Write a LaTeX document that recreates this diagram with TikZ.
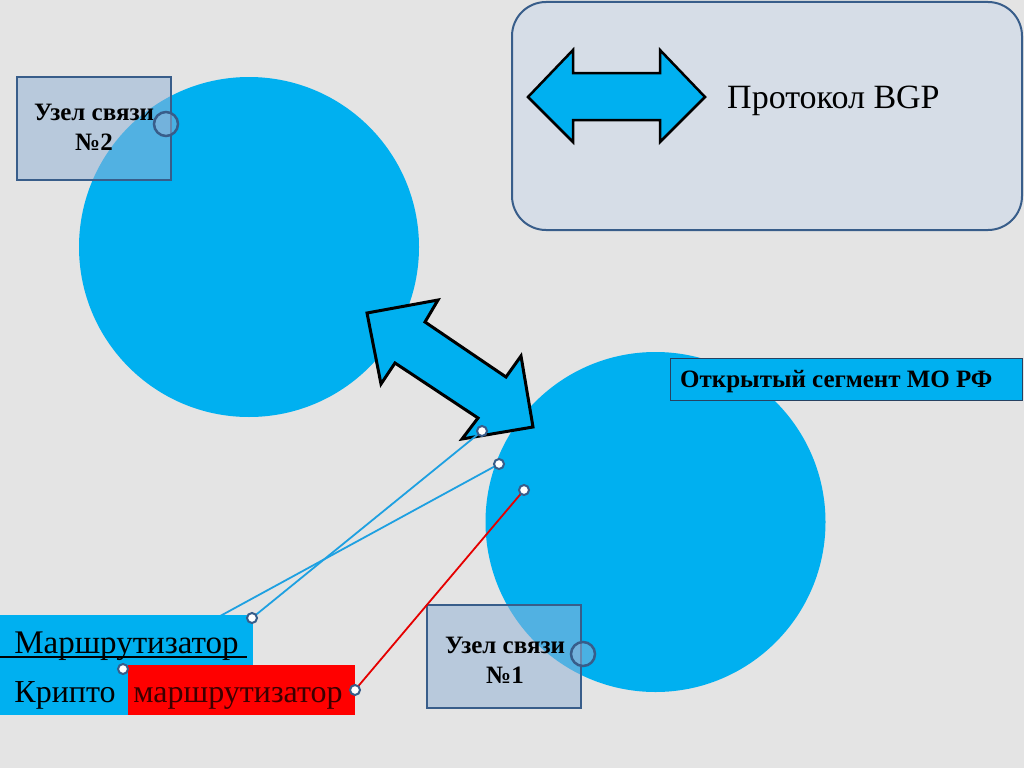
\documentclass[tikz,border=0pt]{standalone}
\usepackage{fontspec}
\setmainfont{Liberation Serif}
\definecolor{bgc}{RGB}{228,228,228}
\definecolor{sky}{RGB}{0,176,240}
\definecolor{skyline}{RGB}{30,160,225}
\definecolor{navy}{RGB}{56,93,138}
\definecolor{steel}{RGB}{149,179,215}
\definecolor{paleb}{RGB}{212,220,232}
\definecolor{dred}{RGB}{60,0,0}
\tikzset{
  bigcirc/.style={circle, fill=sky, minimum size=340pt, inner sep=0pt},
  nodebox/.style={draw=navy, line width=2pt, fill=steel, fill opacity=0.55,
    minimum width=154pt, minimum height=103pt, inner sep=0pt},
  nodetext/.style={anchor=north, inner sep=0pt, align=center,
    font=\fontsize{25}{30}\selectfont\bfseries},
  handle/.style={circle, draw=navy, line width=2.5pt, fill=steel, fill opacity=0.5, minimum size=24pt, inner sep=0pt},
  endpt/.style={circle, draw=navy, line width=2pt, fill=white, minimum size=10pt, inner sep=0pt},
  bluebox/.style={fill=sky, inner sep=0pt},
  btext/.style={anchor=base, inner sep=0pt, font=\fontsize{32}{38}\selectfont},
  wire/.style={line width=1.8pt},
}
\begin{document}
\begin{tikzpicture}[x=1pt,y=-1pt]
\useasboundingbox (0,0) rectangle (1024,768);
\fill[bgc] (0,0) rectangle (1024,768);

% big circles
\node[bigcirc] (c1) at (249,247) {};
\node[bigcirc] (c2) at (655.5,522) {};

% BGP legend box
\node[draw=navy, line width=2pt, fill=paleb, fill opacity=0.85, rounded corners=34pt,
  minimum width=510pt, minimum height=228pt, inner sep=0pt] (legend) at (767,116) {};
\filldraw[fill=sky, draw=black, line width=2.5pt, line join=miter]
  (528,97) -- (573,50) -- (573,73) -- (660,73) -- (660,50) -- (705,97)
  -- (660,142) -- (660,120) -- (573,120) -- (573,142) -- cycle;
\node[anchor=base west, inner sep=0pt, font=\fontsize{34}{40}\selectfont] (bgp) at (727,108) {Протокол BGP};

% node boxes
\node[nodebox] (n2) at (94,128.5) {};
\node[nodetext] (t2) at (94,103.5) {Узел связи\\№2};
\node[handle] (h2) at (166,124) {};
\node[nodebox] (n1) at (503.5,656.5) {};
\node[nodetext] (t1) at (505,636.5) {Узел связи\\№1};
\node[handle] (h1) at (583,654) {};

% diagonal double arrow
\filldraw[fill=sky, draw=black, line width=3pt, line join=miter]
  (367,313) -- (438,300) -- (425,322) -- (506,377) -- (521,356) -- (533,427)
  -- (462,439) -- (478,418) -- (395,363) -- (381,384) -- cycle;

% open segment label
\node[fill=sky, draw=navy!70!black, line width=0.6pt, minimum width=352pt, minimum height=42pt,
  inner sep=0pt] (seg) at (846,379) {};
\node[anchor=base west, inner sep=0pt, font=\fontsize{25}{30}\selectfont\bfseries] (segt) at (680,387) {Открытый сегмент МО РФ};

% endpoints
\coordinate (p1) at (482,431);
\coordinate (p2) at (499,464);
\coordinate (p3) at (524,490);
\coordinate (pk) at (123,669);
\coordinate (pm) at (252,618);
\coordinate (pr) at (355,690);

% wire hidden behind router box
\draw[wire, skyline] (pk) -- (p2);

% router boxes
\node[bluebox, minimum width=253pt, minimum height=50pt] (router) at (126.5,640) {};
\node[btext, font=\fontsize{33}{38}\selectfont] (routert) at (126.5,653) {Маршрутизатор};
\draw[line width=2.5pt] (router.west |- 0,657) -- (247,657);
\node[bluebox, minimum width=128pt, minimum height=50pt] (krypto) at (64,690) {};
\node[btext] (kryptot) at (65,702) {Крипто};
\node[fill=red, inner sep=0pt, minimum width=227pt, minimum height=50pt] (crouter) at (241.5,690) {};
\node[btext, text=dred] (croutert) at (238,702) {маршрутизатор};

% other wires
\draw[wire, skyline] (pm) -- (p1);
\draw[wire, red!90!black] (pr) -- (p3);

% endpoint markers
\foreach \p/\n in {p1/m1, p2/m2, p3/m3, pk/mk, pm/mm, pr/mr}
  \node[endpt] (\n) at (\p) {};
\end{tikzpicture}
\end{document}
